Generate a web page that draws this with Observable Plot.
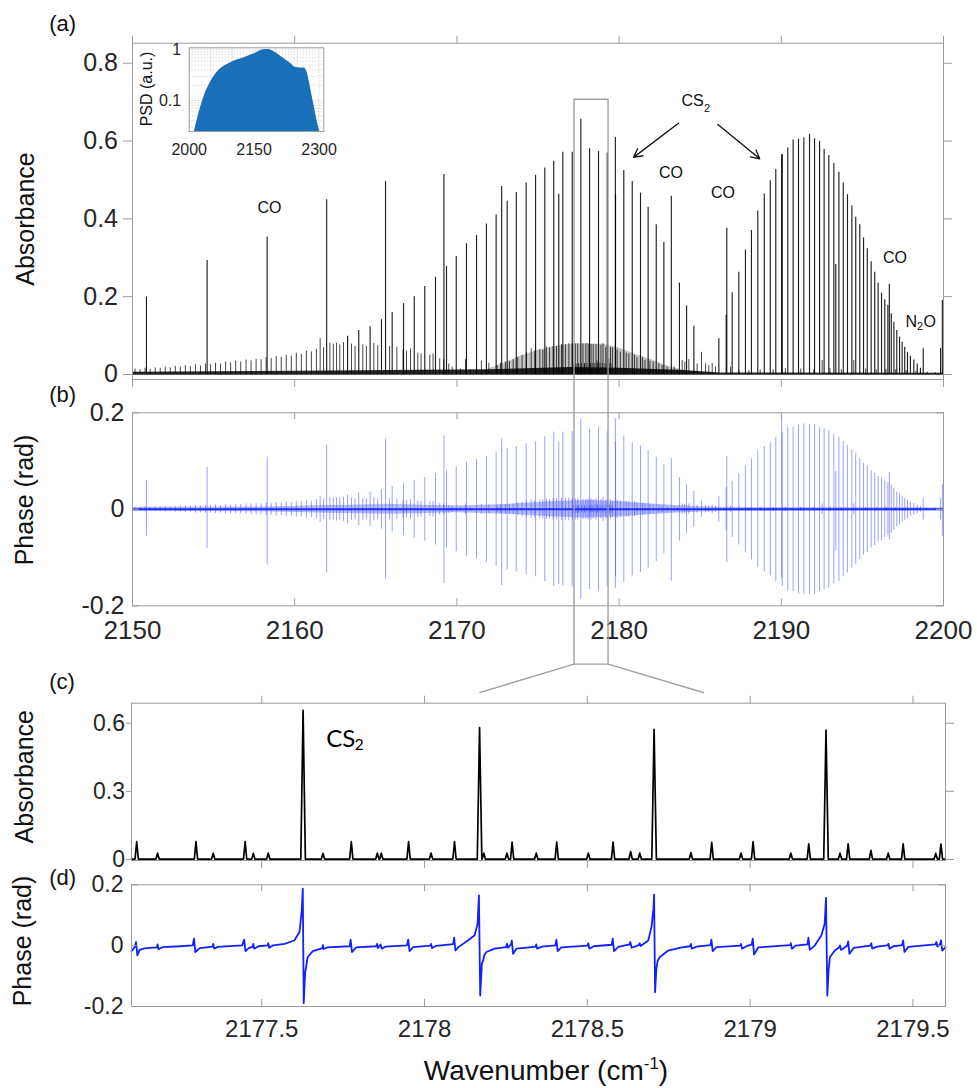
<!DOCTYPE html>
<html><head><meta charset="utf-8">
<script src="https://cdn.jsdelivr.net/npm/d3@7"></script>
<script src="https://cdn.jsdelivr.net/npm/@observablehq/plot@0.6"></script>
<style>
body{margin:0;background:#fff;}
#wrap{position:relative;width:977px;height:1088px;overflow:hidden;background:#fff;}
.panel{position:absolute;}
#overlay{position:absolute;left:0;top:0;pointer-events:none;}
</style></head><body><div id="wrap"></div>
<script>
// ---------------- tick values & labels ----------------
const xTicksAB = [2150, 2160, 2170, 2180, 2190, 2200];
const xTickLabelsB = ["2150", "2160", "2170", "2180", "2190", "2200"];
const yTicksA = [0, 0.2, 0.4, 0.6, 0.8];
const yTickLabelsA = ["0", "0.2", "0.4", "0.6", "0.8"];
const yTicksB = [-0.2, 0, 0.2];
const yTickLabelsB = ["-0.2", "0", "0.2"];
const xTicksCD = [2177.5, 2178, 2178.5, 2179, 2179.5];
const xTickLabelsD = ["2177.5", "2178", "2178.5", "2179", "2179.5"];
const yTicksC = [0, 0.3, 0.6];
const yTickLabelsC = ["0", "0.3", "0.6"];
const yTicksD = [-0.2, 0, 0.2];
const yTickLabelsD = ["-0.2", "0", "0.2"];
const insetXTicks = [2000, 2150, 2300];
const insetXLabels = ["2000", "2150", "2300"];
const insetYTicks = [0.1, 1];
const insetYLabels = ["0.1", "1"];
const insetGridX = [2050, 2100, 2150, 2200, 2250, 2300];
const insetGridY = [0.03, 0.04, 0.05, 0.06, 0.07, 0.08, 0.09, 0.1, 0.2, 0.3, 0.4, 0.5, 0.6, 0.7, 0.8, 0.9, 1];

// ---------------- panel (a)/(b): strong lines ----------------
// CO R-branch lines: [wavenumber, absorbance, phase max, phase min]
const coLines = [
  [2150.86, 0.199, 0.060, -0.056], [2154.60, 0.293, 0.087, -0.081], [2158.30, 0.353, 0.108, -0.116],
  [2161.97, 0.449, 0.133, -0.132], [2165.60, 0.496, 0.146, -0.144], [2169.20, 0.514, 0.152, -0.154],
  [2172.76, 0.483, 0.146, -0.158], [2176.28, 0.463, 0.139, -0.156], [2179.77, 0.609, 0.188, -0.164],
  [2183.22, 0.458, 0.105, -0.149], [2186.64, 0.376, 0.110, -0.110], [2190.02, 0.565, 0.194, -0.143],
  [2193.36, 0.283, 0.078, -0.087], [2196.66, 0.232, 0.076, -0.063], [2199.93, 0.190, 0.051, -0.056]
];
// CS2 P-branch: [wavenumber, absorbance, phase amplitude]
const cs2P = [
  [2163.26,0.098,0.030],[2163.95,0.113,0.034],[2164.65,0.123,0.036],[2165.35,0.141,0.041],[2166.01,0.159,0.047],
  [2166.71,0.182,0.054],[2167.37,0.200,0.060],[2168.02,0.226,0.066],[2168.68,0.250,0.074],[2169.36,0.278,0.080],
  [2169.96,0.303,0.088],[2170.59,0.336,0.097],[2171.21,0.357,0.103],[2171.82,0.387,0.110],[2172.42,0.410,0.118],
  [2173.10,0.445,0.126],[2173.66,0.468,0.130],[2174.27,0.492,0.136],[2174.85,0.512,0.140],[2175.42,0.531,0.150],
  [2175.97,0.548,0.160],[2176.53,0.571,0.160],[2177.11,0.571,0.161],[2177.64,0.656,0.187],[2178.18,0.580,0.166],
  [2178.73,0.573,0.170],[2179.27,0.569,0.161],[2179.78,0.463,0.140],[2180.29,0.524,0.152],[2180.81,0.496,0.138],
  [2181.32,0.466,0.131],[2181.79,0.430,0.122],[2182.29,0.385,0.108],[2182.76,0.339,0.092],[2183.72,0.235,0.066],
  [2184.16,0.176,0.051],[2184.61,0.124,0.037]
];
// CS2 R-branch
const cs2R = [
  [2186.15,0.092,0.027],[2186.60,0.152,0.045],[2186.97,0.210,0.058],[2187.38,0.263,0.074],[2187.79,0.320,0.090],
  [2188.16,0.370,0.105],[2188.55,0.420,0.121],[2188.95,0.464,0.130],[2189.32,0.498,0.138],[2189.66,0.527,0.149],
  [2190.06,0.565,0.160],[2190.40,0.582,0.169],[2190.73,0.603,0.170],[2191.06,0.604,0.175],[2191.39,0.608,0.177],
  [2191.74,0.617,0.176],[2192.05,0.606,0.176],[2192.36,0.599,0.170],[2192.64,0.578,0.167],[2192.93,0.563,0.164],
  [2193.24,0.542,0.155],[2193.55,0.520,0.150],[2193.82,0.492,0.140],[2194.08,0.462,0.132],[2194.35,0.433,0.122],
  [2194.59,0.404,0.115],[2194.84,0.385,0.105],[2195.07,0.351,0.095],[2195.30,0.323,0.090],[2195.54,0.290,0.080],
  [2195.76,0.263,0.075],[2195.97,0.235,0.068],[2196.18,0.209,0.065],[2196.38,0.192,0.058],[2196.57,0.177,0.055],
  [2196.78,0.156,0.050],[2196.94,0.134,0.043],[2197.12,0.113,0.036],[2197.29,0.096,0.031],[2197.45,0.083,0.027],
  [2197.61,0.070,0.023],[2197.78,0.057,0.019],[2197.96,0.047,0.015],[2198.17,0.037,0.012],[2198.38,0.027,0.009],
  [2198.58,0.016,0.006]
];
const n2oLines = [[2198.75, 0.066, 0.022], [2199.82, 0.067, 0.022]];

// ---------------- weak lines: [wavenumber, absorbance, phase amplitude] ----------------
const weakP1 = [
  [2150.16,0.014,0.004],[2150.47,0.012,0.004],[2150.78,0.016,0.005],[2151.09,0.013,0.004],[2151.40,0.017,0.005],
  [2151.71,0.015,0.005],[2152.02,0.019,0.006],[2152.33,0.017,0.005],[2152.64,0.021,0.006],[2152.95,0.019,0.006],
  [2153.26,0.023,0.007],[2153.57,0.020,0.006],[2153.88,0.025,0.008],[2154.19,0.022,0.007],[2154.50,0.027,0.008],
  [2154.81,0.025,0.008],[2155.12,0.029,0.009],[2155.43,0.027,0.008],[2155.74,0.032,0.010],[2156.05,0.030,0.009],
  [2156.36,0.034,0.010],[2156.67,0.032,0.010],[2157.00,0.037,0.011],[2157.31,0.035,0.011],[2157.62,0.039,0.012],
  [2157.93,0.038,0.011],[2158.24,0.043,0.013],[2158.55,0.041,0.012],[2158.86,0.046,0.014],[2159.17,0.044,0.013],
  [2159.48,0.049,0.015],[2159.79,0.047,0.014],[2160.10,0.055,0.016],[2160.41,0.052,0.016],[2160.72,0.060,0.018],
  [2161.03,0.058,0.017],[2161.34,0.065,0.020],[2161.57,0.092,0.027],[2161.78,0.069,0.021]
];
const weakP2 = [
  [2162.17,0.080,0.024],[2162.38,0.078,0.023],[2162.58,0.080,0.024],[2162.78,0.076,0.023],[2163.01,0.082,0.025],
  [2163.50,0.078,0.023],[2163.72,0.072,0.022],[2164.20,0.076,0.023],[2164.42,0.072,0.022],[2164.88,0.080,0.024],
  [2165.12,0.074,0.022],[2165.85,0.072,0.022],[2166.30,0.070,0.021],[2166.68,0.063,0.019],[2166.89,0.060,0.018],
  [2167.14,0.066,0.020],[2167.59,0.055,0.017],[2167.79,0.053,0.016],[2168.33,0.050,0.015],[2168.53,0.053,0.016],
  [2168.94,0.040,0.012],[2169.19,0.038,0.011],[2169.50,0.027,0.008],[2169.71,0.019,0.006],[2170.22,0.014,0.004],
  [2170.53,0.038,0.011],[2170.84,0.012,0.004],[2171.51,0.034,0.010],[2171.97,0.029,0.009],[2172.48,0.023,0.007],
  [2172.69,0.029,0.009],[2172.99,0.032,0.010],[2173.24,0.034,0.010],[2173.47,0.038,0.011],[2173.75,0.044,0.013],
  [2174.02,0.049,0.015],[2174.29,0.057,0.017],[2174.58,0.066,0.020],[2174.80,0.060,0.018],[2175.11,0.063,0.019],
  [2175.30,0.062,0.019],[2175.52,0.070,0.021],[2175.71,0.068,0.020],[2175.93,0.072,0.022],[2176.14,0.072,0.022],
  [2176.45,0.077,0.023],[2176.69,0.077,0.023],[2176.90,0.079,0.024]
];
const weakP3 = [
  [2179.88,0.063,0.019],[2180.08,0.057,0.017],[2180.44,0.055,0.016],[2180.60,0.053,0.016],[2180.95,0.049,0.015],
  [2181.10,0.044,0.013],[2181.45,0.043,0.013],[2181.60,0.036,0.011],[2181.90,0.034,0.010],[2182.10,0.032,0.010],
  [2182.45,0.027,0.008],[2182.65,0.023,0.007],[2182.96,0.019,0.006],[2183.40,0.019,0.006],[2183.58,0.012,0.004],
  [2183.89,0.036,0.011],[2184.05,0.032,0.010],[2184.30,0.038,0.011],[2184.81,0.027,0.008],[2185.08,0.057,0.017],
  [2185.33,0.027,0.008],[2185.53,0.023,0.007],[2185.74,0.029,0.009],[2185.94,0.019,0.006]
];
const weakR = [
  [2186.87,0.019,0.006],[2187.38,0.010,0.003],[2188.00,0.010,0.003],[2188.70,0.012,0.004],[2189.50,0.012,0.004],
  [2190.25,0.015,0.005],[2191.20,0.014,0.004],[2192.00,0.012,0.004],[2192.52,0.036,0.011],[2193.00,0.015,0.005],
  [2193.70,0.012,0.004],[2194.47,0.036,0.011],[2195.20,0.014,0.004],[2195.85,0.012,0.004],[2196.45,0.013,0.004],
  [2197.05,0.012,0.004],[2197.70,0.010,0.003],[2198.30,0.008,0.003],[2199.00,0.006,0.002],[2199.50,0.005,0.002]
];
// unresolved hot-band envelope (a), dense baseline band (a), dense phase band (b)
const hotEnvelopeA = [
  [2171.0,0.000],[2172.0,0.015],[2173.0,0.030],[2174.0,0.048],[2175.0,0.062],[2176.0,0.072],[2177.0,0.078],
  [2178.0,0.079],[2179.0,0.078],[2180.0,0.068],[2181.0,0.052],[2182.0,0.038],[2183.0,0.022],[2184.0,0.010],
  [2185.0,0.003],[2186.0,0.000]
];
const baseBandA = [
  [2150,0.006],[2160,0.008],[2166,0.010],[2172,0.012],[2177,0.018],[2180,0.016],[2184,0.010],[2186.2,0.004],[2200,0.003]
];
const phaseBandB = [
  [2150,0.004],[2158,0.005],[2162,0.008],[2166,0.010],[2170,0.007],[2173,0.010],[2176,0.016],[2178,0.018],
  [2180,0.016],[2182,0.011],[2184,0.007],[2186,0.004],[2200,0.003]
];

// ---------------- panel (c): peaks [wavenumber, absorbance, phase amplitude] ----------------
const cPeaks = [
  [2177.116,0.079,0.022],[2177.180,0.028,0.008],[2177.298,0.079,0.022],[2177.351,0.027,0.008],[2177.449,0.079,0.022],
  [2177.474,0.027,0.008],[2177.520,0.028,0.008],[2177.627,0.657,0.188],[2177.688,0.027,0.008],[2177.775,0.079,0.021],
  [2177.855,0.028,0.008],[2177.867,0.028,0.008],[2177.951,0.079,0.020],[2178.020,0.028,0.007],[2178.092,0.079,0.022],
  [2178.169,0.581,0.165],[2178.182,0.028,0.008],[2178.253,0.028,0.007],[2178.269,0.077,0.022],[2178.343,0.028,0.007],
  [2178.406,0.077,0.020],[2178.503,0.028,0.008],[2178.579,0.077,0.022],[2178.633,0.035,0.010],[2178.661,0.028,0.008],
  [2178.705,0.573,0.168],[2178.818,0.030,0.008],[2178.882,0.075,0.020],[2178.972,0.028,0.008],[2179.009,0.079,0.025],
  [2179.125,0.028,0.008],[2179.180,0.069,0.020],[2179.233,0.570,0.160],[2179.276,0.028,0.008],[2179.301,0.069,0.020],
  [2179.371,0.040,0.010],[2179.424,0.028,0.008],[2179.470,0.069,0.020],[2179.570,0.027,0.008],[2179.586,0.068,0.017]
];
// ---------------- panel (d): phase trace [wavenumber, phase] ----------------
const dTrace = [
  [2177.100,-0.018],[2177.110,-0.005],[2177.114,0.012],[2177.118,-0.032],[2177.125,-0.014],[2177.140,-0.009],
  [2177.178,-0.006],[2177.180,0.004],[2177.183,-0.012],[2177.195,-0.005],[2177.250,-0.002],[2177.288,0.001],
  [2177.292,0.023],[2177.296,-0.021],[2177.310,-0.008],[2177.349,-0.003],[2177.351,0.006],[2177.354,-0.010],
  [2177.365,-0.004],[2177.440,0.001],[2177.446,0.020],[2177.450,-0.018],[2177.460,-0.008],[2177.472,-0.004],
  [2177.474,0.006],[2177.477,-0.010],[2177.490,-0.002],[2177.518,0.001],[2177.520,0.008],[2177.523,-0.007],
  [2177.535,0.001],[2177.570,0.006],[2177.600,0.017],[2177.616,0.045],[2177.623,0.116],[2177.626,0.187],
  [2177.629,-0.189],[2177.633,-0.093],[2177.641,-0.038],[2177.657,-0.018],[2177.682,-0.010],[2177.686,-0.008],
  [2177.688,0.002],[2177.690,-0.011],[2177.700,-0.006],[2177.770,-0.002],[2177.773,0.020],[2177.777,-0.021],
  [2177.790,-0.006],[2177.852,-0.002],[2177.854,0.006],[2177.857,-0.008],[2177.865,0.004],[2177.869,-0.010],
  [2177.880,-0.003],[2177.946,0.001],[2177.950,0.020],[2177.954,-0.018],[2177.965,-0.005],[2178.018,0.000],
  [2178.020,0.006],[2178.023,-0.008],[2178.035,-0.001],[2178.088,0.005],[2178.091,0.026],[2178.095,-0.016],
  [2178.105,-0.004],[2178.133,0.017],[2178.154,0.034],[2178.163,0.072],[2178.167,0.165],[2178.171,-0.164],
  [2178.176,-0.060],[2178.181,-0.045],[2178.184,-0.030],[2178.190,-0.021],[2178.215,-0.010],[2178.250,-0.005],
  [2178.253,0.006],[2178.256,-0.007],[2178.266,0.005],[2178.268,0.017],[2178.272,-0.027],[2178.282,-0.010],
  [2178.307,-0.007],[2178.341,-0.003],[2178.343,0.004],[2178.346,-0.010],[2178.360,-0.003],[2178.402,0.001],
  [2178.405,0.020],[2178.409,-0.018],[2178.420,-0.006],[2178.500,0.000],[2178.503,0.008],[2178.506,-0.010],
  [2178.520,-0.002],[2178.575,0.003],[2178.578,0.023],[2178.582,-0.018],[2178.595,-0.004],[2178.630,0.004],
  [2178.632,0.012],[2178.636,-0.007],[2178.658,0.002],[2178.661,0.008],[2178.664,-0.001],[2178.687,0.017],
  [2178.697,0.061],[2178.703,0.120],[2178.705,0.168],[2178.708,-0.153],[2178.712,-0.076],[2178.716,-0.050],
  [2178.722,-0.038],[2178.748,-0.016],[2178.790,-0.006],[2178.816,-0.002],[2178.818,0.006],[2178.821,-0.010],
  [2178.835,-0.003],[2178.878,0.002],[2178.881,0.020],[2178.885,-0.018],[2178.897,-0.005],[2178.970,0.000],
  [2178.972,0.006],[2178.975,-0.010],[2178.990,-0.001],[2179.005,0.003],[2179.008,0.023],[2179.012,-0.029],
  [2179.025,-0.006],[2179.123,0.002],[2179.125,0.008],[2179.128,-0.010],[2179.140,0.000],[2179.176,0.004],
  [2179.179,0.026],[2179.183,-0.014],[2179.199,0.001],[2179.219,0.034],[2179.229,0.072],[2179.233,0.157],
  [2179.237,-0.164],[2179.241,-0.080],[2179.245,-0.038],[2179.260,-0.016],[2179.274,-0.005],[2179.276,0.001],
  [2179.279,-0.014],[2179.298,0.000],[2179.301,0.014],[2179.305,-0.027],[2179.318,-0.007],[2179.369,0.000],
  [2179.372,0.008],[2179.375,-0.010],[2179.390,-0.003],[2179.422,0.001],[2179.425,0.006],[2179.428,-0.010],
  [2179.440,-0.002],[2179.467,0.002],[2179.470,0.017],[2179.474,-0.021],[2179.486,-0.004],[2179.569,0.004],
  [2179.572,0.012],[2179.575,-0.003],[2179.583,0.004],[2179.586,0.017],[2179.590,-0.016],[2179.600,-0.005]
];
// ---------------- inset: laser power spectral density [wavenumber, PSD] ----------------
const psdCurve = [
  [2012.2,0.0248],[2022.2,0.0547],[2033.7,0.116],[2049.2,0.23],[2064.6,0.361],[2083.8,0.49],[2103.0,0.596],
  [2129.9,0.715],[2153.0,0.857],[2172.2,1.0],[2183.7,1.01],[2195.3,0.926],[2214.6,0.715],[2233.8,0.545],
  [2245.3,0.454],[2256.9,0.44],[2266.1,0.44],[2272.3,0.36],[2280.0,0.183],[2287.6,0.086],[2295.4,0.04],[2301.4,0.0248]
];
// ---------------- annotations ----------------
const coLabelPos = [[2158.45, 0.428], [2183.20, 0.518], [2186.41, 0.466], [2197.01, 0.301]];
const cs2LabelA = [2183.85, 0.702];      // "CS" start
const cs2SubA = [2185.23, 0.684];        // "2" start
const n2oLabel = [[2197.66, 0.134, "N"], [2198.37, 0.124, "2"], [2198.77, 0.134, "O"]];
const cs2Arrows = [[2183.66, 0.646, 2180.89, 0.558], [2186.09, 0.6425, 2188.67, 0.5544]];
const cs2LabelC = [[2177.698, 0.528, "CS"], [2177.785, 0.506, "2"]];
const zoomBox = {x1: 2177.25, x2: 2179.35, topA: 0.706, bottomB: -0.322};
const zoomLink = {x1: 2178.17, x2: 2178.86, yC: 0.732};

// ---------------- styling ----------------
const FONT = "'Liberation Sans', Arial, Helvetica, sans-serif";
const GRAY = "#9c9c9c";
const TXT = "#262626";
const BLUE = "#1020ff";
const BLUE_LINE = "#3646ff";
const W = 977;
const lab = (ticks, labels) => d => labels[ticks.indexOf(d)];
const none = () => "";
const baseStyle = {fontFamily: FONT, background: "transparent", overflow: "visible", color: TXT};

function inTicks(xt, yt, fw, fh, len) {
  return [
    Plot.ruleX(xt, {x: d => d, insetTop: fh - len, stroke: GRAY}),
    Plot.ruleX(xt, {x: d => d, insetBottom: fh - len, stroke: GRAY}),
    Plot.ruleY(yt, {y: d => d, insetRight: fw - len, stroke: GRAY}),
    Plot.ruleY(yt, {y: d => d, insetLeft: fw - len, stroke: GRAY})
  ];
}

const mainAbs = [...coLines, ...cs2P, ...cs2R, ...n2oLines];
const mainPhase = [...coLines.map(d => [d[0], d[2], d[3]]),
  ...[...cs2P, ...cs2R, ...n2oLines].map(d => [d[0], d[2], -d[2]])];
const weakAll = [...weakP1, ...weakP2, ...cPeaks.filter(d => d[1] < 0.3), ...weakP3, ...weakR];

// ---------------- panel (a) ----------------
const plotA = Plot.plot({
  width: W, height: 392, marginLeft: 132, marginRight: 34, marginTop: 42.7, marginBottom: 13,
  x: {domain: [2150, 2200], axis: null}, y: {domain: [-0.0129, 0.8515], axis: null},
  style: baseStyle,
  marks: [
    Plot.areaY(hotEnvelopeA, {x: d => d[0], y1: 0, y2: d => d[1], fill: "#555", fillOpacity: 0.35}),
    Plot.ruleX(weakAll, {x: d => d[0], y1: 0, y2: d => d[1], stroke: "#1a1a1a", strokeWidth: 1, strokeOpacity: 0.8}),
    Plot.ruleX(mainAbs, {x: d => d[0], y1: 0, y2: d => d[1], stroke: "#000", strokeWidth: 1.15, strokeOpacity: 0.88}),
    Plot.areaY(baseBandA, {x: d => d[0], y1: -0.002, y2: d => d[1], fill: "#000", fillOpacity: 0.85}),
    Plot.frame({stroke: GRAY}),
    Plot.axisX({anchor: "bottom", ticks: xTicksAB, tickSize: 8, tickFormat: none, stroke: GRAY, label: null}),
    Plot.axisX({anchor: "top", ticks: xTicksAB, tickSize: 8, tickFormat: none, stroke: GRAY, label: null}),
    Plot.axisY({anchor: "left", ticks: yTicksA, tickSize: 9, tickPadding: 5.5, tickFormat: lab(yTicksA, yTickLabelsA),
      fontSize: 25, color: TXT, stroke: GRAY, label: null}),
    Plot.axisY({anchor: "right", ticks: yTicksA, tickSize: 8, tickFormat: none, stroke: GRAY, label: null}),
    Plot.text(coLabelPos, {x: d => d[0], y: d => d[1], text: () => "CO", fontSize: 16, fill: "#111"}),
    Plot.text([cs2LabelA], {x: d => d[0], y: d => d[1], text: () => "CS", textAnchor: "start", fontSize: 16, fill: "#111"}),
    Plot.text([cs2SubA], {x: d => d[0], y: d => d[1], text: () => "2", textAnchor: "start", fontSize: 11, fill: "#111"}),
    Plot.text(n2oLabel, {x: d => d[0], y: d => d[1], text: d => d[2], textAnchor: "start",
      fontSize: d => d[2] === "2" ? 11 : 16, fill: "#111"}),
    Plot.arrow(cs2Arrows, {x1: d => d[0], y1: d => d[1], x2: d => d[2], y2: d => d[3],
      stroke: "#111", strokeWidth: 1.3, headLength: 11, headAngle: 55})
  ]
});

// ---------------- panel (b) ----------------
const plotB = Plot.plot({
  width: W, height: 262, marginLeft: 132, marginRight: 34, marginTop: 20.3, marginBottom: 48.7,
  x: {domain: [2150, 2200], axis: null}, y: {domain: [-0.2, 0.2], axis: null},
  style: baseStyle,
  marks: [
    Plot.areaY(phaseBandB, {x: d => d[0], y1: d => -d[1], y2: d => d[1], fill: BLUE, fillOpacity: 0.3}),
    Plot.ruleX(weakAll, {x: d => d[0], y1: d => -d[2], y2: d => d[2], stroke: BLUE_LINE, strokeWidth: 1, strokeOpacity: 0.5}),
    Plot.ruleX(mainPhase, {x: d => d[0], y1: d => d[2], y2: d => d[1], stroke: BLUE_LINE, strokeWidth: 1, strokeOpacity: 0.5}),
    Plot.ruleY([0], {stroke: BLUE, strokeWidth: 2, strokeOpacity: 0.9}),
    Plot.frame({stroke: GRAY}),
    ...inTicks(xTicksAB, yTicksB, 811, 193, 7),
    Plot.axisX({anchor: "bottom", ticks: xTicksAB, tickSize: 0, tickPadding: 14.5, tickFormat: lab(xTicksAB, xTickLabelsB),
      fontSize: 26, color: TXT, label: null}),
    Plot.axisY({anchor: "left", ticks: yTicksB, tickSize: 0, tickPadding: 8, tickFormat: lab(yTicksB, yTickLabelsB),
      fontSize: 25, color: TXT, label: null})
  ]
});

// ---------------- panel (c) ----------------
const cLine = [[2177.1, 0.002]];
for (const [p, h] of cPeaks) {
  const hw = h > 0.3 ? 0.007 : 0.005;
  cLine.push([p - hw, 0.002], [p, h], [p + hw, 0.002]);
}
cLine.push([2179.6, 0.002]);

const plotC = Plot.plot({
  width: W, height: 212, marginLeft: 131, marginRight: 32, marginTop: 42.7, marginBottom: 12,
  x: {domain: [2177.1, 2179.6], axis: null}, y: {domain: [-0.0044, 0.688], axis: null},
  style: baseStyle,
  marks: [
    Plot.line(cLine, {x: d => d[0], y: d => d[1], stroke: "#000", strokeWidth: 1.7}),
    Plot.frame({stroke: GRAY}),
    Plot.axisX({anchor: "bottom", ticks: xTicksCD, tickSize: 8, tickFormat: none, stroke: GRAY, label: null}),
    Plot.axisX({anchor: "top", ticks: xTicksCD, tickSize: 8, tickFormat: none, stroke: GRAY, label: null}),
    Plot.axisY({anchor: "left", ticks: yTicksC, tickSize: 5, tickPadding: 1.5, tickFormat: lab(yTicksC, yTickLabelsC),
      fontSize: 23, color: TXT, stroke: GRAY, label: null}),
    Plot.axisY({anchor: "right", ticks: yTicksC, tickSize: 8, tickFormat: none, stroke: GRAY, label: null}),
    Plot.text(cs2LabelC, {x: d => d[0], y: d => d[1], text: d => d[2], textAnchor: "start",
      fontSize: d => d[2] === "2" ? 16 : 24, fill: "#000", fontFamily: "Lato, 'Open Sans', sans-serif"})
  ]
});

// ---------------- panel (d) ----------------
const plotD = Plot.plot({
  width: W, height: 216, marginLeft: 131, marginRight: 32, marginTop: 12.3, marginBottom: 82,
  x: {domain: [2177.1, 2179.6], axis: null}, y: {domain: [-0.2, 0.2], axis: null},
  style: baseStyle,
  marks: [
    Plot.line(dTrace, {x: d => d[0], y: d => d[1], stroke: BLUE, strokeWidth: 1.8}),
    Plot.frame({stroke: GRAY}),
    ...inTicks(xTicksCD, yTicksD, 814, 121.7, 7),
    Plot.axisX({anchor: "bottom", ticks: xTicksCD, tickSize: 0, tickPadding: 13.3, tickFormat: lab(xTicksCD, xTickLabelsD),
      fontSize: 24, color: TXT, label: null}),
    Plot.axisY({anchor: "left", ticks: yTicksD, tickSize: 0, tickPadding: 8, tickFormat: lab(yTicksD, yTickLabelsD),
      fontSize: 23, color: TXT, label: null})
  ]
});

// ---------------- inset ----------------
const plotI = Plot.plot({
  width: 200, height: 130, marginLeft: 58.7, marginRight: 6.7, marginTop: 17.3, marginBottom: 29,
  x: {domain: [2000, 2311], axis: null}, y: {type: "log", domain: [0.0245, 1.095], axis: null},
  style: baseStyle,
  marks: [
    Plot.ruleX(insetGridX, {x: d => d, stroke: "#c8c8c8", strokeWidth: 0.7, strokeDasharray: "1.5,1.5"}),
    Plot.ruleY(insetGridY, {y: d => d, stroke: "#c8c8c8", strokeWidth: 0.7, strokeDasharray: "1.5,1.5"}),
    Plot.areaY(psdCurve, {x: d => d[0], y1: 0.0245, y2: d => d[1], fill: "#1a70b8", curve: "monotone-x"}),
    Plot.frame({stroke: GRAY}),
    Plot.axisX({anchor: "bottom", ticks: insetXTicks, tickSize: 0, tickPadding: 12, tickFormat: lab(insetXTicks, insetXLabels),
      fontSize: 16, color: TXT, label: null}),
    Plot.axisY({anchor: "left", ticks: insetYTicks, tickSize: 0, tickPadding: 8, tickFormat: lab(insetYTicks, insetYLabels),
      fontSize: 16, color: TXT, label: null})
  ]
});

// ---------------- layout ----------------
const wrap = document.getElementById("wrap");
function place(el, left, top) {
  const d = document.createElement("div");
  d.className = "panel"; d.style.left = left + "px"; d.style.top = top + "px";
  d.appendChild(el); wrap.appendChild(d);
}
const TOP = {A: 0, B: 392, C: 660, D: 872};
place(plotA, 0, TOP.A);
place(plotB, 0, TOP.B);
place(plotC, 0, TOP.C);
place(plotD, 0, TOP.D);
place(plotI, 130, 30);

// ---------------- overlay: labels + zoom box (positions through plot scales) ----------------
const ov = d3.select(wrap).append("svg").attr("id", "overlay").attr("width", W).attr("height", 1088)
  .style("font-family", FONT);
const sxA = plotA.scale("x"), syA = plotA.scale("y"), syB = plotB.scale("y");
const sxC = plotC.scale("x"), syC = plotC.scale("y");
const bx1 = sxA.apply(zoomBox.x1), bx2 = sxA.apply(zoomBox.x2);
const bTop = TOP.A + syA.apply(zoomBox.topA), bBot = TOP.B + syB.apply(zoomBox.bottomB);
const lx1 = sxC.apply(zoomLink.x1), lx2 = sxC.apply(zoomLink.x2), lY = TOP.C + syC.apply(zoomLink.yC);
ov.append("path")
  .attr("d", `M${bx1},${bBot}L${bx1},${bTop}L${bx2},${bTop}L${bx2},${bBot}Z M${bx1},${bBot}L${lx1},${lY} M${bx2},${bBot}L${lx2},${lY}`)
  .attr("fill", "none").attr("stroke", "#a0a0a0").attr("stroke-width", 1.4);

const panelLetters = [["(a)", 31.4], ["(b)", 402], ["(c)", 689.4], ["(d)", 885.4]];
ov.selectAll("text.letter").data(panelLetters).join("text").attr("class", "letter")
  .attr("x", 49.3).attr("y", d => d[1]).attr("font-size", 22).attr("fill", "#111").text(d => d[0]);

const yTitles = [["Absorbance", 34, 219], ["Phase (rad)", 33, 500], ["Absorbance", 33.3, 776.7], ["Phase (rad)", 31, 941]];
ov.selectAll("text.ytitle").data(yTitles).join("text").attr("class", "ytitle")
  .attr("transform", d => `translate(${d[1]},${d[2]}) rotate(-90)`)
  .attr("text-anchor", "middle").attr("font-size", 25).attr("fill", "#111").text(d => d[0]);

ov.append("text").attr("transform", "translate(151.6,89) rotate(-90)").attr("text-anchor", "middle")
  .attr("font-size", 16).attr("fill", "#111").text("PSD (a.u.)");

const xt = ov.append("text").attr("x", 546).attr("y", 1080).attr("text-anchor", "middle")
  .attr("font-size", 28).attr("fill", "#111");
xt.append("tspan").text("Wavenumber (cm");
xt.append("tspan").attr("font-size", 17).attr("dy", -11).text("-1");
xt.append("tspan").attr("dy", 11).text(")");
</script></body></html>
